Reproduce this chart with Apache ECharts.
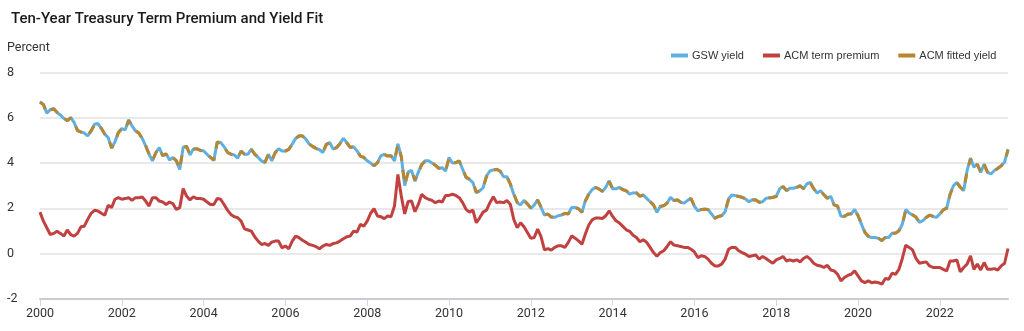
<!DOCTYPE html>
<html><head><meta charset="utf-8">
<script src="https://cdn.jsdelivr.net/npm/echarts@6/dist/echarts.min.js"></script>
<style>html,body{margin:0;padding:0;background:#fff}#c{width:1024px;height:331px}</style>
</head><body><div id="c"></div>
<script>
const startYear = 2000; // monthly observations, Jan 2000 - Sep 2023
const xTicks = [2000, 2002, 2004, 2006, 2008, 2010, 2012, 2014, 2016, 2018, 2020, 2022];
const yTicks = [-2, 0, 2, 4, 6, 8];
const seriesNames = ['GSW yield', 'ACM term premium', 'ACM fitted yield'];

const gswYield = [
 6.72,6.60,6.21,6.36,6.42,6.24,6.12,5.98,5.87,6.02,5.80,5.43,
 5.38,5.33,5.20,5.43,5.72,5.75,5.53,5.28,5.13,4.65,4.95,5.36,
 5.53,5.47,5.92,5.65,5.43,5.33,5.09,4.76,4.39,4.10,4.47,4.69,
 4.32,4.42,4.14,4.25,4.10,3.72,4.70,4.75,4.36,4.62,4.64,4.57,
 4.54,4.39,4.25,4.12,4.94,4.91,4.73,4.47,4.39,4.36,4.22,4.54,
 4.39,4.39,4.62,4.39,4.25,4.10,4.02,4.39,4.10,4.47,4.64,4.54,
 4.54,4.62,4.84,5.09,5.21,5.21,5.06,4.84,4.73,4.64,4.59,4.47,
 4.84,4.91,4.62,4.69,4.87,5.09,4.91,4.69,4.73,4.54,4.30,4.25,
 4.10,4.00,3.88,4.02,4.32,4.39,4.32,4.32,4.10,4.85,4.30,3.00,
 3.60,3.68,3.20,3.60,3.95,4.10,4.10,4.00,3.90,3.76,3.80,3.65,
 4.25,4.00,4.02,4.10,3.73,3.36,3.28,3.14,2.69,2.77,2.91,3.43,
 3.65,3.70,3.73,3.65,3.40,3.40,3.06,2.62,2.25,2.15,2.35,2.19,
 2.00,2.14,2.38,2.04,1.70,1.75,1.60,1.60,1.67,1.70,1.78,1.75,
 2.04,2.04,1.97,1.82,2.34,2.63,2.83,2.93,2.86,2.74,2.93,3.22,
 2.86,2.86,2.93,2.83,2.78,2.63,2.68,2.68,2.53,2.59,2.44,2.29,
 2.14,1.82,2.09,2.12,2.23,2.49,2.34,2.38,2.26,2.23,2.35,2.44,
 2.09,1.89,1.94,1.97,1.94,1.75,1.55,1.63,1.67,1.85,2.41,2.59,
 2.56,2.53,2.49,2.41,2.29,2.38,2.38,2.26,2.29,2.44,2.47,2.49,
 2.53,2.86,2.97,2.78,2.89,2.89,2.93,3.00,2.86,3.08,3.15,2.86,
 2.68,2.78,2.59,2.44,2.53,2.14,2.09,1.65,1.64,1.75,1.75,1.95,
 1.67,1.30,0.93,0.75,0.71,0.71,0.67,0.56,0.71,0.71,0.90,0.90,
 1.00,1.30,1.94,1.79,1.70,1.60,1.38,1.45,1.60,1.70,1.64,1.60,
 1.75,1.94,2.00,2.63,3.00,3.15,2.93,2.78,3.67,4.22,3.82,3.96,
 3.59,3.96,3.59,3.52,3.67,3.77,3.89,4.04,4.62
];

const acmTermPremium = [
 1.83,1.43,1.14,0.84,0.89,0.99,0.89,0.77,1.04,0.84,0.77,0.89,
 1.18,1.21,1.51,1.78,1.91,1.88,1.78,1.69,2.13,2.03,2.40,2.47,
 2.40,2.43,2.47,2.35,2.47,2.47,2.50,2.32,2.10,2.47,2.47,2.32,
 2.28,2.17,2.28,2.20,1.95,2.03,2.87,2.54,2.37,2.51,2.43,2.43,
 2.40,2.28,2.17,2.17,2.43,2.40,2.17,1.92,1.73,1.63,1.58,1.43,
 1.09,1.04,0.99,0.74,0.55,0.40,0.44,0.36,0.50,0.55,0.55,0.25,
 0.33,0.21,0.55,0.77,0.70,0.59,0.50,0.40,0.36,0.30,0.21,0.33,
 0.40,0.36,0.44,0.47,0.55,0.65,0.74,0.77,0.99,0.95,1.29,1.21,
 1.43,1.78,1.98,1.66,1.63,1.54,1.66,1.63,2.10,3.50,2.54,1.75,
 2.30,2.32,1.85,2.17,2.62,2.47,2.40,2.35,2.25,2.32,2.28,2.57,
 2.57,2.62,2.57,2.47,2.25,1.95,1.83,1.92,1.36,1.58,1.83,1.92,
 2.25,2.51,2.25,2.28,2.25,2.35,2.17,1.51,1.14,1.36,1.18,0.93,
 0.67,0.71,1.08,0.75,0.16,0.22,0.15,0.27,0.34,0.34,0.27,0.49,
 0.78,0.68,0.56,0.41,0.86,1.26,1.49,1.57,1.57,1.55,1.67,1.89,
 1.64,1.45,1.35,1.20,1.05,0.98,0.81,0.71,0.52,0.61,0.49,0.27,
 0.04,-0.12,0.04,0.12,0.31,0.52,0.37,0.34,0.31,0.27,0.27,0.19,
 0.07,-0.18,-0.10,-0.13,-0.25,-0.43,-0.55,-0.55,-0.47,-0.25,0.19,0.27,
 0.27,0.12,0.04,-0.03,-0.13,-0.10,-0.07,-0.25,-0.13,-0.22,-0.33,-0.43,
 -0.28,-0.22,-0.13,-0.33,-0.28,-0.33,-0.28,-0.37,-0.22,-0.13,-0.25,-0.43,
 -0.52,-0.55,-0.62,-0.52,-0.73,-0.77,-0.92,-1.21,-1.06,-0.97,-0.92,-0.77,
 -0.99,-1.21,-1.29,-1.21,-1.29,-1.26,-1.29,-1.36,-1.11,-1.14,-0.87,-0.92,
 -0.70,-0.22,0.37,0.27,0.16,-0.22,-0.43,-0.40,-0.37,-0.55,-0.62,-0.62,
 -0.62,-0.70,-0.77,-0.33,-0.33,-0.28,-0.81,-0.62,-0.47,-0.10,-0.70,-0.47,
 -0.73,-0.40,-0.70,-0.70,-0.67,-0.73,-0.55,-0.43,0.22
];

const acmFittedYield = [
 6.70,6.58,6.22,6.35,6.40,6.25,6.10,5.99,5.88,6.00,5.81,5.45,
 5.37,5.34,5.22,5.42,5.70,5.74,5.54,5.29,5.12,4.68,4.96,5.34,
 5.52,5.46,5.88,5.64,5.44,5.32,5.10,4.78,4.40,4.12,4.46,4.68,
 4.33,4.40,4.15,4.24,4.11,3.74,4.68,4.74,4.37,4.61,4.63,4.56,
 4.53,4.40,4.26,4.13,4.92,4.90,4.72,4.48,4.40,4.35,4.24,4.52,
 4.40,4.38,4.60,4.40,4.26,4.11,4.04,4.37,4.12,4.46,4.63,4.55,
 4.53,4.61,4.83,5.08,5.20,5.20,5.05,4.85,4.74,4.65,4.58,4.48,
 4.82,4.90,4.63,4.68,4.86,5.07,4.90,4.70,4.72,4.55,4.31,4.26,
 4.11,4.01,3.89,4.01,4.31,4.38,4.31,4.33,4.12,4.80,4.28,3.05,
 3.58,3.67,3.24,3.58,3.93,4.09,4.09,4.01,3.91,3.77,3.79,3.66,
 4.22,4.01,4.03,4.09,3.74,3.38,3.29,3.15,2.72,2.78,2.92,3.41,
 3.64,3.69,3.72,3.64,3.41,3.39,3.08,2.64,2.27,2.18,2.34,2.20,
 2.02,2.13,2.36,2.05,1.72,1.74,1.62,1.61,1.68,1.71,1.77,1.76,
 2.03,2.03,1.98,1.83,2.32,2.62,2.82,2.92,2.85,2.75,2.92,3.18,
 2.87,2.85,2.92,2.82,2.77,2.64,2.67,2.69,2.54,2.58,2.45,2.30,
 2.15,1.86,2.08,2.11,2.24,2.47,2.35,2.37,2.27,2.24,2.34,2.43,
 2.10,1.90,1.95,1.96,1.95,1.76,1.57,1.64,1.68,1.84,2.39,2.58,
 2.55,2.52,2.48,2.42,2.30,2.37,2.37,2.27,2.30,2.43,2.46,2.48,
 2.52,2.84,2.96,2.79,2.88,2.88,2.92,2.99,2.87,3.06,3.13,2.87,
 2.69,2.77,2.60,2.45,2.52,2.15,2.10,1.68,1.65,1.74,1.76,1.93,
 1.68,1.32,0.95,0.77,0.72,0.72,0.68,0.58,0.72,0.72,0.89,0.91,
 1.01,1.29,1.91,1.80,1.71,1.61,1.40,1.46,1.59,1.69,1.65,1.61,
 1.74,1.93,2.01,2.61,2.98,3.13,2.94,2.79,3.64,4.19,3.83,3.94,
 3.60,3.93,3.60,3.53,3.66,3.76,3.88,4.03,4.58
];

function toPoints(arr) {
  return arr.map((v, i) => [startYear + i / 12, v]);
}

const lastX = startYear + (gswYield.length - 1) / 12;

const chart = echarts.init(document.getElementById('c'), null, {renderer: 'canvas'});
chart.setOption({
  animation: false,
  backgroundColor: '#ffffff',
  title: {
    text: 'Ten-Year Treasury Term Premium and Yield Fit',
    left: 6, top: 7,
    textStyle: {fontFamily: 'Roboto', fontSize: 15, fontWeight: 500, color: '#1a1a1a'}
  },
  graphic: [{
    type: 'text', left: 7, top: 41,
    style: {text: 'Percent', fontFamily: 'Roboto', fontSize: 12.5, fill: '#333333'}
  }],
  legend: {
    data: seriesNames,
    left: 666, top: 45,
    itemGap: 19, itemWidth: 17, itemHeight: 4,
    icon: 'rect',
    textStyle: {fontFamily: 'Liberation Sans, Arial', fontSize: 11, color: '#333333', padding: [0,0,0,-1]}
  },
  grid: {left: 40, right: 16, top: 72.7, bottom: 32.3, containLabel: false},
  xAxis: {
    type: 'value',
    min: xTicks[0], max: lastX, interval: 2,
    axisLine: {show: true, onZero: false, lineStyle: {color: '#c9ccd3', width: 2}},
    axisTick: {show: true, length: 7, lineStyle: {color: '#ccd6eb', width: 1}},
    splitLine: {show: false},
    axisLabel: {
      showMaxLabel: false, margin: 9,
      fontFamily: 'Roboto', fontSize: 12.5, color: '#333333',
      formatter: v => (xTicks.indexOf(Math.round(v)) >= 0 ? String(Math.round(v)) : '')
    }
  },
  yAxis: {
    type: 'value',
    min: yTicks[0], max: yTicks[yTicks.length - 1], interval: 2,
    axisLine: {show: false}, axisTick: {show: false},
    splitLine: {show: true, lineStyle: {color: '#e9e9e9', width: 2}},
    axisLabel: {align: 'left', margin: 33, fontFamily: 'Roboto', fontSize: 12.5, color: '#333333'}
  },
  series: [
    {name: seriesNames[0], type: 'line', data: toPoints(gswYield), showSymbol: false, symbol: 'none',
     color: '#5fb0e0', lineStyle: {width: 3, color: '#5fb0e0'}, z: 2},
    {name: seriesNames[1], type: 'line', data: toPoints(acmTermPremium), showSymbol: false, symbol: 'none',
     color: '#c0413f', lineStyle: {width: 3, color: '#c0413f'}, z: 3},
    {name: seriesNames[2], type: 'line', data: toPoints(acmFittedYield), showSymbol: false, symbol: 'none',
     color: '#b8862e', lineStyle: {width: 3, color: '#b8862e', type: [9, 9]}, z: 4}
  ]
});
</script>
</body></html>
